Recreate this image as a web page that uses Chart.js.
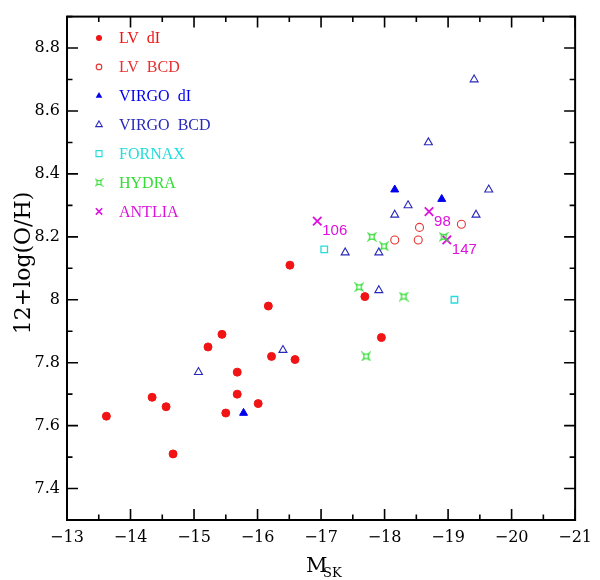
<!DOCTYPE html>
<html>
<head>
<meta charset="utf-8">
<script src="https://cdn.jsdelivr.net/npm/chart.js@4/dist/chart.umd.min.js"></script>
<style>
html,body{margin:0;padding:0;background:#fff;}
#wrap{width:600px;height:580px;position:relative;}
</style>
</head>
<body>
<div id="wrap"><canvas id="c"></canvas></div>
<script>
// ---- data ----
const lvDiX = [-13.62,-14.34,-14.56,-14.67,-15.22,-15.44,-15.50,-15.68,-15.68,-16.01,-16.17,-16.22,-16.59,-16.51,-17.69,-17.95];
const lvDiY = [7.63,7.69,7.66,7.51,7.85,7.89,7.64,7.77,7.70,7.67,7.98,7.82,7.81,8.11,8.01,7.88];
const lvBcdX = [-18.16,-18.55,-18.53,-19.21];
const lvBcdY = [8.19,8.23,8.19,8.24];
const virgoDiX = [-15.78,-18.16,-18.90];
const virgoDiY = [7.64,8.35,8.32];
const virgoBcdX = [-15.07,-16.40,-19.41,-18.69,-19.64,-18.37,-18.16,-19.44,-17.38,-17.91,-17.91];
const virgoBcdY = [7.77,7.84,8.70,8.50,8.35,8.30,8.27,8.27,8.15,8.15,8.03];
const fornaxX = [-17.05,-19.10];
const fornaxY = [8.16,8.00];
const hydraX = [-17.80,-17.99,-18.93,-17.60,-18.30,-17.71];
const hydraY = [8.20,8.17,8.20,8.04,8.01,7.82];
const antliaX = [-16.94,-18.70,-18.98];
const antliaY = [8.25,8.28,8.19];
const antliaLabels = ['106','98','147'];
const seriesNames = ['LV  dI','LV  BCD','VIRGO  dI','VIRGO  BCD','FORNAX','HYDRA','ANTLIA'];
const xTicks = [-13,-14,-15,-16,-17,-18,-19,-20,-21];
const yTicks = [7.4,7.6,7.8,8,8.2,8.4,8.6,8.8];
const xMinorStep = 0.5, yMinorStep = 0.1;

const zip = (xs, ys) => xs.map((x,i)=>({x:x, y:ys[i]}));

// ---- styles ----
const cRed = '#f01414', cRed2 = '#e83030', cBlue = '#0000ee', cBlue2 = '#2828bb',
      cCyan = '#22dddd', cGreen = '#33dd33', cMag = '#dd11dd';

function hydraCanvas(s, color, lw){
  const n = Math.ceil(s*2+3);
  const cv = document.createElement('canvas');
  cv.width = n; cv.height = n;
  const g = cv.getContext('2d');
  g.translate(n/2, n/2);
  g.strokeStyle = color; g.lineWidth = lw;
  const k = s*0.3;
  g.beginPath();
  g.moveTo(-s,-s);
  g.quadraticCurveTo(0,-k, s,-s);
  g.quadraticCurveTo(k,0, s,s);
  g.quadraticCurveTo(0,k, -s,s);
  g.quadraticCurveTo(-k,0, -s,-s);
  g.closePath();
  g.stroke();
  return cv;
}
const hydraPt = hydraCanvas(3.2, cGreen, 1.2);
const hydraLeg = hydraCanvas(2.7, cGreen, 1.1);

const datasets = [
  {label:seriesNames[0], data:zip(lvDiX,lvDiY), pointStyle:'circle', radius:4, backgroundColor:cRed, borderColor:cRed, borderWidth:1},
  {label:seriesNames[1], data:zip(lvBcdX,lvBcdY), pointStyle:'circle', radius:4, backgroundColor:'rgba(0,0,0,0)', borderColor:cRed2, borderWidth:1.1},
  {label:seriesNames[2], data:zip(virgoDiX,virgoDiY), pointStyle:'triangle', radius:4.6, backgroundColor:cBlue, borderColor:cBlue, borderWidth:1},
  {label:seriesNames[3], data:zip(virgoBcdX,virgoBcdY), pointStyle:'triangle', radius:4.6, backgroundColor:'rgba(0,0,0,0)', borderColor:cBlue2, borderWidth:1.1},
  {label:seriesNames[4], data:zip(fornaxX,fornaxY), pointStyle:'rect', radius:4.6, backgroundColor:'rgba(0,0,0,0)', borderColor:cCyan, borderWidth:1.3},
  {label:seriesNames[5], data:zip(hydraX,hydraY), pointStyle:hydraPt, radius:5, backgroundColor:cGreen, borderColor:cGreen},
  {label:seriesNames[6], data:zip(antliaX,antliaY), pointStyle:'crossRot', radius:6, backgroundColor:cMag, borderColor:cMag, borderWidth:1.8}
];
datasets.forEach(d=>{ d.showLine=false; d.pointRadius=d.radius; d.pointHoverRadius=d.radius; });

const legendColors = [cRed, cRed2, cBlue, cBlue2, cCyan, cGreen, cMag];

const framePlugin = {
  id:'frame',
  afterDraw(chart){
    const ctx = chart.ctx, a = chart.chartArea;
    const xs = chart.scales.x, ys = chart.scales.y;
    ctx.save();
    ctx.strokeStyle = '#000'; ctx.lineWidth = 2;
    ctx.strokeRect(a.left, a.top, a.right-a.left, a.bottom-a.top);
    ctx.lineWidth = 1.6;
    ctx.beginPath();
    for (let v = -13; v >= -21 - 1e-9; v -= xMinorStep){
      const major = Math.abs(v - Math.round(v)) < 1e-6;
      const L = major ? 11 : 5.5;
      const px = xs.getPixelForValue(v);
      ctx.moveTo(px, a.bottom); ctx.lineTo(px, a.bottom - L);
      ctx.moveTo(px, a.top); ctx.lineTo(px, a.top + L);
    }
    for (let i = 73; i <= 89; i++){
      const v = i/10;
      const major = (i % 2 === 0);
      const L = major ? 11 : 5.5;
      const py = ys.getPixelForValue(v);
      ctx.moveTo(a.left, py); ctx.lineTo(a.left + L, py);
      ctx.moveTo(a.right, py); ctx.lineTo(a.right - L, py);
    }
    ctx.stroke();

    // legend
    const lx = 99, ly0 = 38, dy = 28.9;
    ctx.textBaseline = 'middle';
    ctx.font = '16px "Liberation Serif"';
    seriesNames.forEach((name,i)=>{
      const y = ly0 + i*dy;
      const col = legendColors[i];
      ctx.strokeStyle = col; ctx.fillStyle = col; ctx.lineWidth = 1.1;
      ctx.beginPath();
      if (i===0){ ctx.arc(lx,y,3,0,Math.PI*2); ctx.fill(); }
      else if (i===1){ ctx.arc(lx,y,2.8,0,Math.PI*2); ctx.stroke(); }
      else if (i===2 || i===3){
        const r=3.8;
        ctx.moveTo(lx, y-r); ctx.lineTo(lx+r*0.866, y+r/2); ctx.lineTo(lx-r*0.866, y+r/2); ctx.closePath();
        if (i===2) ctx.fill(); else ctx.stroke();
      }
      else if (i===4){ ctx.rect(lx-3,y-3,6,6); ctx.stroke(); }
      else if (i===5){ ctx.drawImage(hydraLeg, lx-hydraLeg.width/2, y-hydraLeg.height/2); }
      else { const r=3.2; ctx.lineWidth=1.6; ctx.moveTo(lx-r,y-r); ctx.lineTo(lx+r,y+r); ctx.moveTo(lx+r,y-r); ctx.lineTo(lx-r,y+r); ctx.stroke(); }
      ctx.fillStyle = col;
      ctx.fillText(name, 119, y+1);
    });

    // ANTLIA point labels
    const meta = chart.getDatasetMeta(6);
    ctx.font = '15px "Liberation Sans"';
    ctx.fillStyle = cMag;
    ctx.textBaseline = 'middle';
    ctx.textAlign = 'left';
    meta.data.forEach((pt,i)=>{
      ctx.fillText(antliaLabels[i], pt.x + 5, pt.y + 10);
    });

    // x axis title M_SK
    ctx.fillStyle = '#000';
    ctx.textBaseline = 'alphabetic';
    ctx.font = '21px "DejaVu Serif"';
    ctx.fillText('M', 306, 572);
    ctx.font = '13px "DejaVu Serif"';
    ctx.fillText('SK', 323, 577);

    // y axis title
    ctx.save();
    ctx.translate(24, 263);
    ctx.rotate(-Math.PI/2);
    ctx.textAlign = 'center';
    ctx.textBaseline = 'middle';
    ctx.font = '22px "DejaVu Serif"';
    ctx.fillText('12+log(O/H)', 0, 0);
    ctx.restore();
    ctx.restore();
  }
};

new Chart(document.getElementById('c'), {
  type:'scatter',
  data:{datasets},
  options:{
    responsive:true, maintainAspectRatio:false, animation:false,
    layout:{padding:{top:6, right:18, left:0, bottom:0}},
    plugins:{legend:{display:false}, tooltip:{enabled:false}},
    scales:{
      x:{
        type:'linear', min:-21, max:-13, reverse:true,
        grid:{display:false, drawTicks:false}, border:{display:false},
        afterBuildTicks: s => { s.ticks = xTicks.map(v=>({value:v})); },
        afterFit: s => { s.height = 60; },
        ticks:{padding:8, color:'#000', font:{family:'"DejaVu Serif"', size:16},
          callback: v => (v < 0 ? '\u2212' : '') + Math.abs(v), maxRotation:0, autoSkip:false}
      },
      y:{
        type:'linear', min:7.3, max:8.9,
        grid:{display:false, drawTicks:false}, border:{display:false},
        afterBuildTicks: s => { s.ticks = yTicks.map(v=>({value:v})); },
        afterFit: s => { s.width = 67; },
        ticks:{padding:7, color:'#000', font:{family:'"DejaVu Serif"', size:16},
          callback: v => String(v), autoSkip:false}
      }
    }
  },
  plugins:[framePlugin]
});
</script>
</body>
</html>
